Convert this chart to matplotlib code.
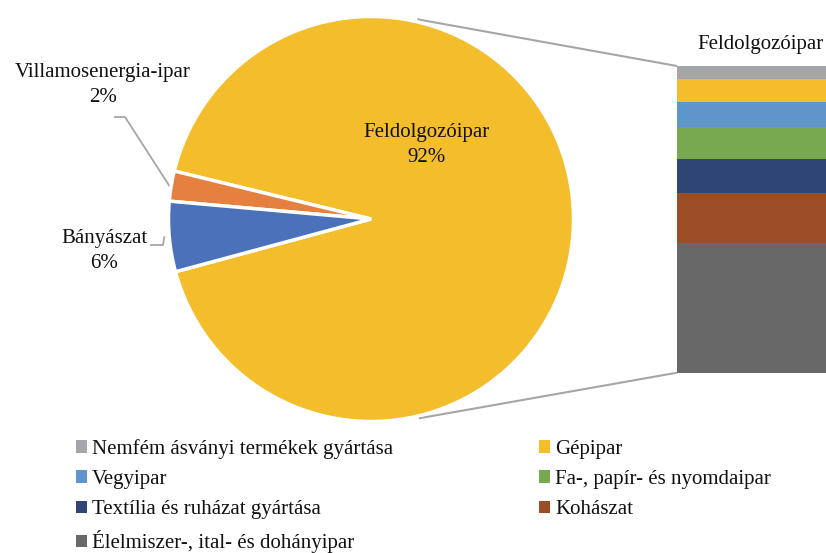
import matplotlib
matplotlib.use('Agg')
import matplotlib.pyplot as plt
import numpy as np
from matplotlib.patches import Patch

plt.rcParams['font.family'] = ['Liberation Serif', 'DejaVu Serif']

# ---- data ----
pie_labels = ['Feldolgozóipar', 'Villamosenergia-ipar', 'Bányászat']
pie_values = [92.0, 2.4, 5.6]
pie_pct = ['92%', '2%', '6%']
pie_colors = ['#F4BD2C', '#E5803F', '#4A71B9']

bar_title = 'Feldolgozóipar'
bar_labels = ['Élelmiszer-, ital- és dohányipar', 'Kohászat',
              'Textília és ruházat gyártása', 'Fa-, papír- és nyomdaipar',
              'Vegyipar', 'Gépipar', 'Nemfém ásványi termékek gyártása']
bar_values = [42.4, 16.3, 11.0, 10.5, 8.2, 7.4, 4.2]
bar_colors = ['#686868', '#9B4D26', '#2F4675', '#78A850',
              '#5E95CA', '#F5BD2C', '#A5A6AA']

# ---- layout ----
W, H = 826, 553
FS = 15
TXT = '#111111'
fig = plt.figure(figsize=(W / 100, H / 100), dpi=100)
ax = fig.add_axes([0, 0, 1, 1])

cx, cy, R = 371, H - 219, 202.5
start = 166.3 - 360 * pie_values[0] / sum(pie_values)
wedges, _ = ax.pie(pie_values, colors=pie_colors, startangle=start,
                   counterclock=True, center=(cx, cy), radius=R,
                   wedgeprops=dict(edgecolor='white', linewidth=2.5))

# stacked bar
bar_left, bar_w = 677, 164
bar_bottom, bar_height = H - 372.7, 306.7
scale = bar_height / sum(bar_values)
heights = np.array(bar_values) * scale
bottoms = bar_bottom + np.concatenate([[0], np.cumsum(heights)[:-1]])
ax.bar([bar_left] * len(bar_values), heights, width=bar_w, bottom=bottoms,
       color=bar_colors, align='edge', linewidth=0)
bar_top = bar_bottom + heights.sum()

ax.text(bar_left + bar_w / 2 + 1, H - 45, bar_title, ha='center', va='center',
        fontsize=FS, color=TXT)

# connector lines
line_c = '#A6A6A6'
for ang, yb in [(77.0, bar_top), (-76.5, bar_bottom)]:
    a = np.deg2rad(ang)
    ax.plot([cx + 205 * np.cos(a), bar_left], [cy + 205 * np.sin(a), yb],
            color=line_c, lw=1.5, solid_capstyle='butt', zorder=0)

# pie labels
ax.text(427, H - 133, pie_labels[0], ha='center', va='center', fontsize=FS, color=TXT)
ax.text(427, H - 157, pie_pct[0], ha='center', va='center', fontsize=FS, color=TXT)

ax.text(103, H - 73, pie_labels[1], ha='center', va='center', fontsize=FS, color=TXT)
ax.text(103, H - 98, pie_pct[1], ha='center', va='center', fontsize=FS, color=TXT)
ax.text(104, H - 238, pie_labels[2], ha='center', va='center', fontsize=FS, color=TXT)
ax.text(104, H - 263, pie_pct[2], ha='center', va='center', fontsize=FS, color=TXT)

# leader lines
def edge_point(w, r):
    a = np.deg2rad((w.theta1 + w.theta2) / 2)
    return cx + r * np.cos(a), cy + r * np.sin(a)

ex, ey = edge_point(wedges[1], R + 2)
ax.plot([115, 125, ex], [H - 117, H - 117, ey], color=line_c, lw=1.3, zorder=0)
ex, ey = edge_point(wedges[2], R + 5)
ax.plot([151, 163, ex], [H - 245, H - 245, ey], color=line_c, lw=1.3, zorder=0)

ax.set_xlim(0, W)
ax.set_ylim(0, H)
ax.set_aspect('auto')
ax.axis('off')

# legend (row-major order in picture -> column-major handles)
order = [6, 4, 2, 0, 5, 3, 1]
handles = [Patch(facecolor=bar_colors[i], edgecolor='none', label=bar_labels[i]) for i in order]
fig.legend(handles=handles, ncol=2, loc='upper left',
           bbox_to_anchor=(76 / W, 1 - 439 / H), frameon=False,
           fontsize=FS, handlelength=0.52, handleheight=0.52,
           handletextpad=0.25, columnspacing=7.0, labelspacing=0.53,
           borderpad=0, borderaxespad=0, labelcolor=TXT)

fig.savefig('out.png', dpi=100)
